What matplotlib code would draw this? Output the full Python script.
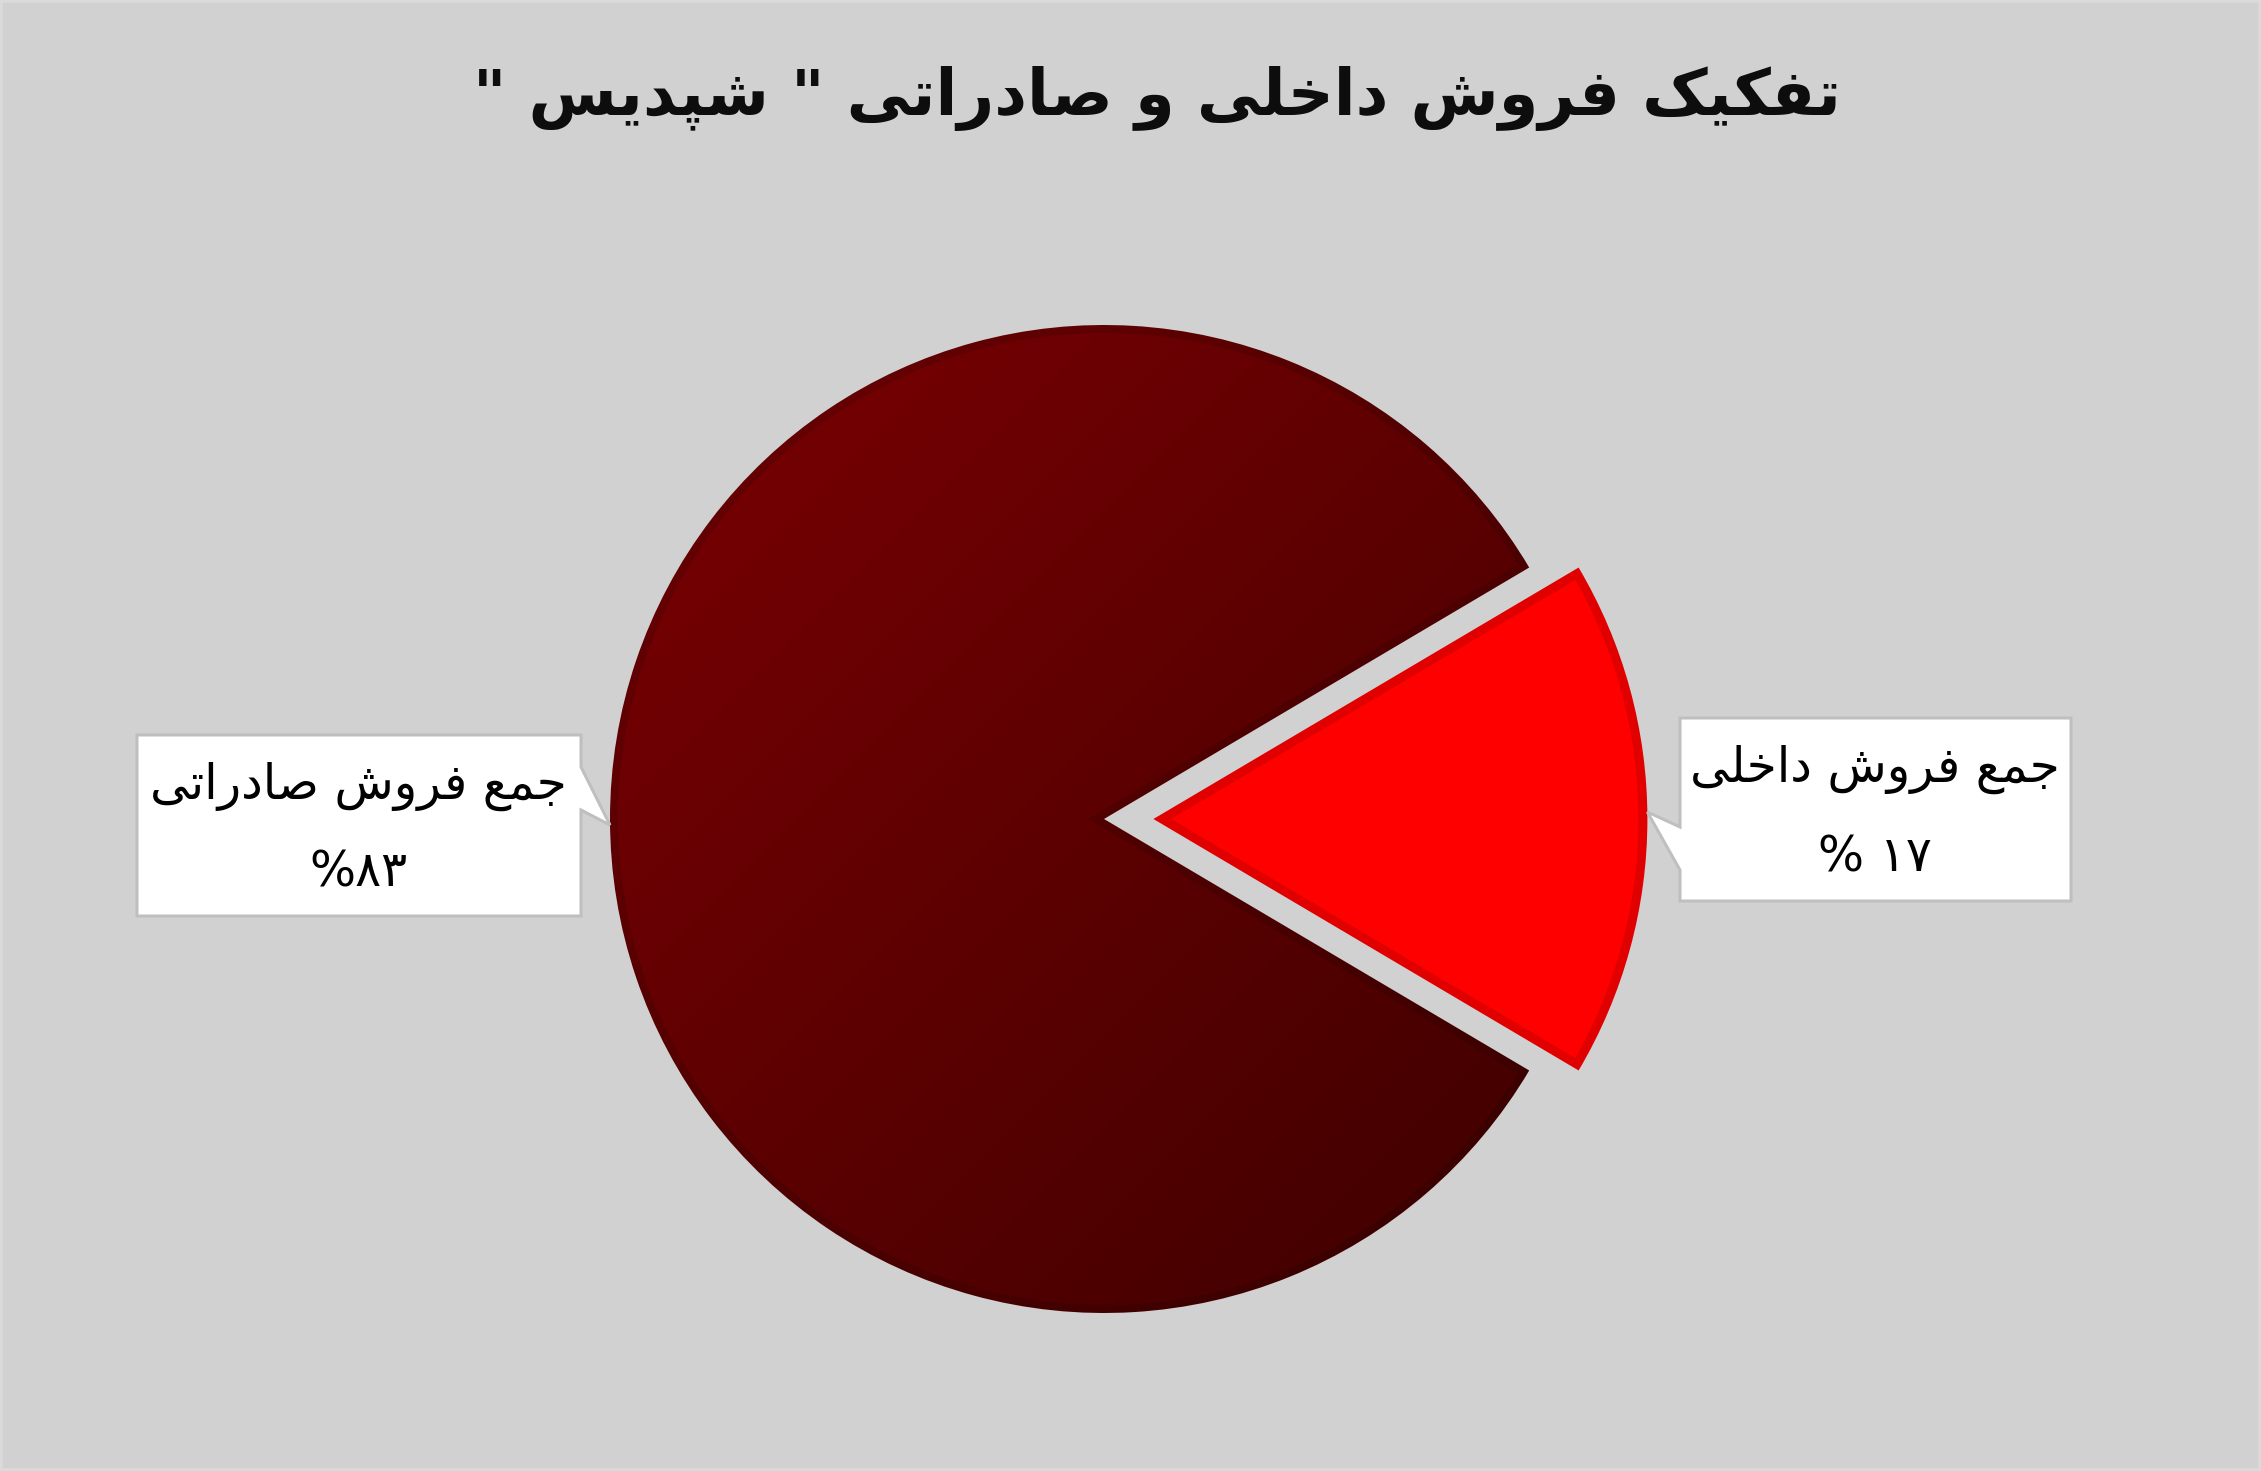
import re
import numpy as np
import matplotlib
matplotlib.use("Agg")
import matplotlib.pyplot as plt
from matplotlib.patches import Polygon, Rectangle

# داده‌ها
labels = ["جمع فروش داخلی", "جمع فروش صادراتی"]
values = [17, 83]
pct_text = ["۱۷ %", "۸۳%"]
title = 'تفکیک فروش داخلی و صادراتی " شپدیس "'

W, H = 2261, 1471
BG = "#d1d1d1"

# شکل‌دهی ساده حروف فارسی (matplotlib خودش این کار را نمی‌کند)
FORMS = {
    "ا": ("\uFE8D", "\uFE8E", None, None),
    "ت": ("\uFE95", "\uFE96", "\uFE97", "\uFE98"),
    "ج": ("\uFE9D", "\uFE9E", "\uFE9F", "\uFEA0"),
    "خ": ("\uFEA5", "\uFEA6", "\uFEA7", "\uFEA8"),
    "د": ("\uFEA9", "\uFEAA", None, None),
    "ر": ("\uFEAD", "\uFEAE", None, None),
    "س": ("\uFEB1", "\uFEB2", "\uFEB3", "\uFEB4"),
    "ش": ("\uFEB5", "\uFEB6", "\uFEB7", "\uFEB8"),
    "ص": ("\uFEB9", "\uFEBA", "\uFEBB", "\uFEBC"),
    "ع": ("\uFEC9", "\uFECA", "\uFECB", "\uFECC"),
    "ف": ("\uFED1", "\uFED2", "\uFED3", "\uFED4"),
    "ل": ("\uFEDD", "\uFEDE", "\uFEDF", "\uFEE0"),
    "م": ("\uFEE1", "\uFEE2", "\uFEE3", "\uFEE4"),
    "و": ("\uFEED", "\uFEEE", None, None),
    "پ": ("\uFB56", "\uFB57", "\uFB58", "\uFB59"),
    "ک": ("\uFB8E", "\uFB8F", "\uFB90", "\uFB91"),
    "ی": ("\uFBFC", "\uFBFD", "\uFBFE", "\uFBFF"),
}


def fa(s):
    out = []
    for i, ch in enumerate(s):
        if ch not in FORMS:
            out.append(ch)
            continue
        iso, fin, ini, med = FORMS[ch]
        prev = s[i - 1] if i > 0 else ""
        nxt = s[i + 1] if i + 1 < len(s) else ""
        jp = prev in FORMS and FORMS[prev][2] is not None
        jn = ini is not None and nxt in FORMS
        if jp and jn:
            out.append(med)
        elif jp:
            out.append(fin)
        elif jn:
            out.append(ini)
        else:
            out.append(iso)
    vis = "".join(out)[::-1]
    # اعداد چپ به راست می‌مانند
    vis = re.sub("[0-9\u06F0-\u06F9]+", lambda m: m.group(0)[::-1], vis)
    return vis


fig = plt.figure(figsize=(W / 100, H / 100), dpi=100, facecolor=BG)
ax = fig.add_axes([0, 0, 1, 1])
fig.patches.append(Rectangle((0, 0), 1, 1, transform=fig.transFigure,
                             fill=False, ec="#dadada", lw=4))

cx, cy = 1104, H - 819
r = 494
px = 100 / 72  # پیکسل در هر پوینت

# explode در matplotlib به واحد داده است، نه نسبت شعاع
wedges, _ = ax.pie(values, radius=r, center=(cx, cy), explode=[0.1 * r, 0],
                   startangle=-values[0] / 100 * 180, counterclock=True,
                   colors=["#e00000", "none"], frame=True,
                   wedgeprops=dict(linewidth=0))
ax.set_xlim(0, W)
ax.set_ylim(0, H)
ax.set_aspect("auto")
ax.axis("off")


def inset(w, d):
    # قطعه‌ای که d پیکسل از هر لبه به داخل آمده (برای خط دور داخلی)
    t1, t2 = np.radians(w.theta1), np.radians(w.theta2)
    h = (t2 - t1) / 2
    m = t1 + h
    ox, oy = w.center
    s = d / np.sin(h)
    vx, vy = ox + s * np.cos(m), oy + s * np.sin(m)
    da = np.arcsin(d / (w.r - d))
    a = np.linspace(t1 + da, t2 - da, 300)
    arc = np.column_stack([ox + (w.r - d) * np.cos(a), oy + (w.r - d) * np.sin(a)])
    return np.vstack([[vx, vy], arc])


small = wedges[0]
big = wedges[1]
small.set_zorder(3)
ax.add_patch(Polygon(inset(small, 9), closed=True, fc="#ff0000", lw=0,
                     zorder=3.5))

# گرادیان قطعه بزرگ (روشن بالا-چپ، تیره پایین-راست)
n = 400
gx, gy = np.meshgrid(np.linspace(0, 1, n), np.linspace(0, 1, n))
t = (gx + gy) / 2
c0 = np.array([0x7c, 0x00, 0x03]) / 255
c1 = np.array([0x3c, 0x00, 0x00]) / 255
img = c0[None, None, :] * (1 - t[..., None]) + c1[None, None, :] * t[..., None]
ext = [cx - r, cx + r, cy - r, cy + r]

im_edge = ax.imshow(img * 0.87, extent=ext, origin="upper", zorder=2,
                    aspect="auto")
im_edge.set_clip_path(big)
inner = Polygon(inset(big, 8), closed=True, fc="none", lw=0,
                transform=ax.transData)
im = ax.imshow(img, extent=ext, origin="upper", zorder=2.5, aspect="auto")
im.set_clip_path(inner)
ax.set_xlim(0, W)
ax.set_ylim(0, H)


def callout(box, tip, side):
    x0, y0, x1, y1 = box  # y از بالا
    if side == "right":
        pts = [(x0, y0), (x1, y0), (x1, y0 + 32), tip, (x1, y0 + 75),
               (x1, y1), (x0, y1)]
    else:
        pts = [(x0, y0), (x1, y0), (x1, y1), (x0, y1), (x0, y0 + 152),
               tip, (x0, y0 + 109)]
    pts = [(x, H - y) for x, y in pts]
    ax.add_patch(Polygon(pts, closed=True, fc="white", ec="#bfbfbf",
                         lw=3 / px, zorder=4))


left_tip = (cx - r, 825)
sc = small.center
right_tip = (sc[0] + r, 812)

callout((137, 735, 581, 916), left_tip, "right")
callout((1680, 718, 2071, 901), right_tip, "left")

lab_font = dict(fontsize=35, color="black", ha="center", va="center",
                family=["DejaVu Sans"], zorder=5)
ax.text(358, H - 786, fa(labels[1]), **lab_font)
ax.text(358, H - 872, fa(pct_text[1]), **lab_font)
ax.text(1875, H - 769, fa(labels[0]), **lab_font)
ax.text(1875, H - 857, fa(pct_text[0]), **lab_font)

ax.text(1157, H - 98, fa(title), fontsize=46, fontweight="bold",
        color="#0d0d0d", ha="center", va="center", family=["DejaVu Sans"])

fig.savefig("out.png", dpi=100, facecolor=BG)
